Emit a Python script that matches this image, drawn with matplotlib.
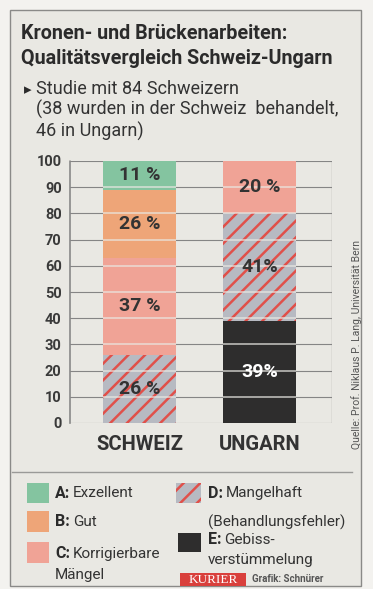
import matplotlib.pyplot as plt
from matplotlib.patches import Rectangle

W, H = 373, 589

# data
countries = ['SCHWEIZ', 'UNGARN']
grades = ['A', 'B', 'C', 'D', 'E']
schweiz = {'D': 26, 'C': 37, 'B': 26, 'A': 11}
ungarn = {'E': 39, 'D': 41, 'C': 20}
schweiz_labels = {'D': '26 %', 'C': '37 %', 'B': '26 %', 'A': '11 %'}
ungarn_labels = {'E': '39%', 'D': '41%', 'C': '20 %'}
legend_names = {'A': 'Exzellent', 'B': 'Gut', 'C': 'Korrigierbare\nMängel',
                'D': 'Mangelhaft\n(Behandlungsfehler)', 'E': 'Gebiss-\nverstümmelung'}
yticks = [0, 10, 20, 30, 40, 50, 60, 70, 80, 90, 100]

colors = {'A': '#84c4a0', 'B': '#eea578', 'C': '#f0a396', 'D': '#b7bac2', 'E': '#2e2d2d'}
hatch_red = '#e0504a'
paper = '#e9e8e3'
ink = '#2b2b2b'

NARROW = dict(family=['Roboto', 'DejaVu Sans'], weight='bold')
plt.rcParams['font.family'] = ['Roboto', 'DejaVu Sans']
plt.rcParams['hatch.linewidth'] = 1.8


def px(x, y):
    return x / W, 1 - y / H


fig = plt.figure(figsize=(W / 100, H / 100), dpi=100)
fig.patch.set_facecolor('#f3f2ef')
fig.patches.append(Rectangle(px(10, 586), 351 / W, 576 / H, transform=fig.transFigure,
                             facecolor=paper, edgecolor='#8a8a88', lw=1.0, zorder=-5))
renderer = fig.canvas.get_renderer()

# titles
fig.text(*px(21, 39), 'Kronen- und Brückenarbeiten:', fontsize=14.2, color=ink,
         va='baseline', **NARROW)
fig.text(*px(21, 64), 'Qualitätsvergleich Schweiz-Ungarn', fontsize=14.2, color=ink,
         va='baseline', **NARROW)
fig.text(*px(24, 94), '\u25b8', fontsize=11, color=ink, va='baseline', family=['DejaVu Sans'])
sub = 'Studie mit 84 Schweizern\n(38 wurden in der Schweiz  behandelt,\n46 in Ungarn)'
fig.text(*px(36, 80), sub, fontsize=13, color='#333333', va='top', linespacing=1.15)

# chart
ax = fig.add_axes([70 / W, 1 - 423 / H, 262 / W, 262 / H])
ax.set_facecolor('none')
ax.set_xlim(-69.5 / 120, (262 - 69.5) / 120)
ax.set_ylim(0, 100)
for s in ['top', 'bottom', 'right']:
    ax.spines[s].set_visible(False)
ax.spines['left'].set_linestyle((0, (1, 1)))
ax.spines['left'].set_color('#888888')
ax.spines['left'].set_linewidth(1.2)
ax.axvline(ax.get_xlim()[1], color='#8a8a8a', lw=0.9)
for t in yticks:
    ax.axhline(t, color='#858585', lw=0.8, zorder=0)
ax.set_yticks(yticks)
ax.set_yticklabels([str(t) for t in yticks], fontsize=10.5, color='#3a3a3a', **NARROW)
ax.tick_params(axis='y', length=0, pad=6)
ax.set_xticks(range(len(countries)))
ax.set_xticklabels(countries, fontsize=14.5, color='#333333', **NARROW)
ax.tick_params(axis='x', length=0, pad=9)

bw = 73 / 120
for i, (data, labels) in enumerate([(schweiz, schweiz_labels), (ungarn, ungarn_labels)]):
    bottom = 0
    for g in ['E', 'D', 'C', 'B', 'A']:
        if g not in data:
            continue
        v = data[g]
        if g == 'D':
            ax.bar(i, v, bw, bottom=bottom, color=colors[g], edgecolor=hatch_red,
                   hatch='//', lw=0, zorder=2)
        else:
            ax.bar(i, v, bw, bottom=bottom, color=colors[g], lw=0, zorder=2)
        tc = 'white' if g == 'E' else '#333333'
        ax.text(i, bottom + v / 2, labels[g], ha='center', va='center',
                fontsize=14, color=tc, zorder=5, **NARROW)
        bottom += v
    for t in yticks[1:-1]:
        ax.hlines(t, i - bw / 2, i + bw / 2, color='#e9e8e3', lw=1.3, alpha=0.7, zorder=3)

# source
fig.text(*px(357, 449), 'Quelle: Prof. Niklaus P. Lang, Universität Bern', rotation=90,
         fontsize=7.5, color='#555555', va='bottom', ha='center')

# separator
fig.add_artist(plt.Line2D([12 / W, 352 / W], [1 - 472 / H] * 2, color='#9a9a98', lw=1.0))

# legend: swatch x, y-top, w, h, text x, first line y, second line gap
legend_pos = {'A': (27, 483, 22, 20, 55, 493, 0), 'B': (27, 511, 22, 21, 55, 522, 0),
              'C': (27, 542, 22, 21, 55, 554, 21), 'D': (176, 483, 25, 20, 208, 493, 29),
              'E': (178, 533, 23, 19, 208, 540, 20)}
for g in grades:
    sx, sy, sw, sh, tx, ty, gap = legend_pos[g]
    if g == 'D':
        r = Rectangle(px(sx, sy + sh), sw / W, sh / H, transform=fig.transFigure,
                      facecolor=colors[g], edgecolor=hatch_red, hatch='//', lw=0)
    else:
        r = Rectangle(px(sx, sy + sh), sw / W, sh / H, transform=fig.transFigure,
                      facecolor=colors[g], lw=0)
    fig.patches.append(r)
    name = legend_names[g].split('\n')
    t0 = fig.text(*px(tx, ty), g + ':', fontsize=11.5, color=ink, va='center', **NARROW)
    bb = t0.get_window_extent(renderer)
    fig.text(*px(tx + bb.width + 3, ty), name[0], fontsize=11, color='#333333', va='center')
    if len(name) > 1:
        fig.text(*px(tx, ty + gap), name[1], fontsize=11, color='#333333', va='center')

# footer
fig.patches.append(Rectangle(px(180, 586), 66 / W, 13 / H, transform=fig.transFigure,
                             facecolor='#d9403c', lw=0))
fig.text(*px(213, 580), 'KURIER', family=['Liberation Serif', 'DejaVu Serif'], fontsize=9.5,
         color='white', ha='center', va='center')
fig.text(*px(252, 579), 'Grafik: Schnürer', fontsize=7, weight='bold',
         color='#555555', va='center')

fig.savefig('out.png', dpi=100, facecolor=fig.get_facecolor())
